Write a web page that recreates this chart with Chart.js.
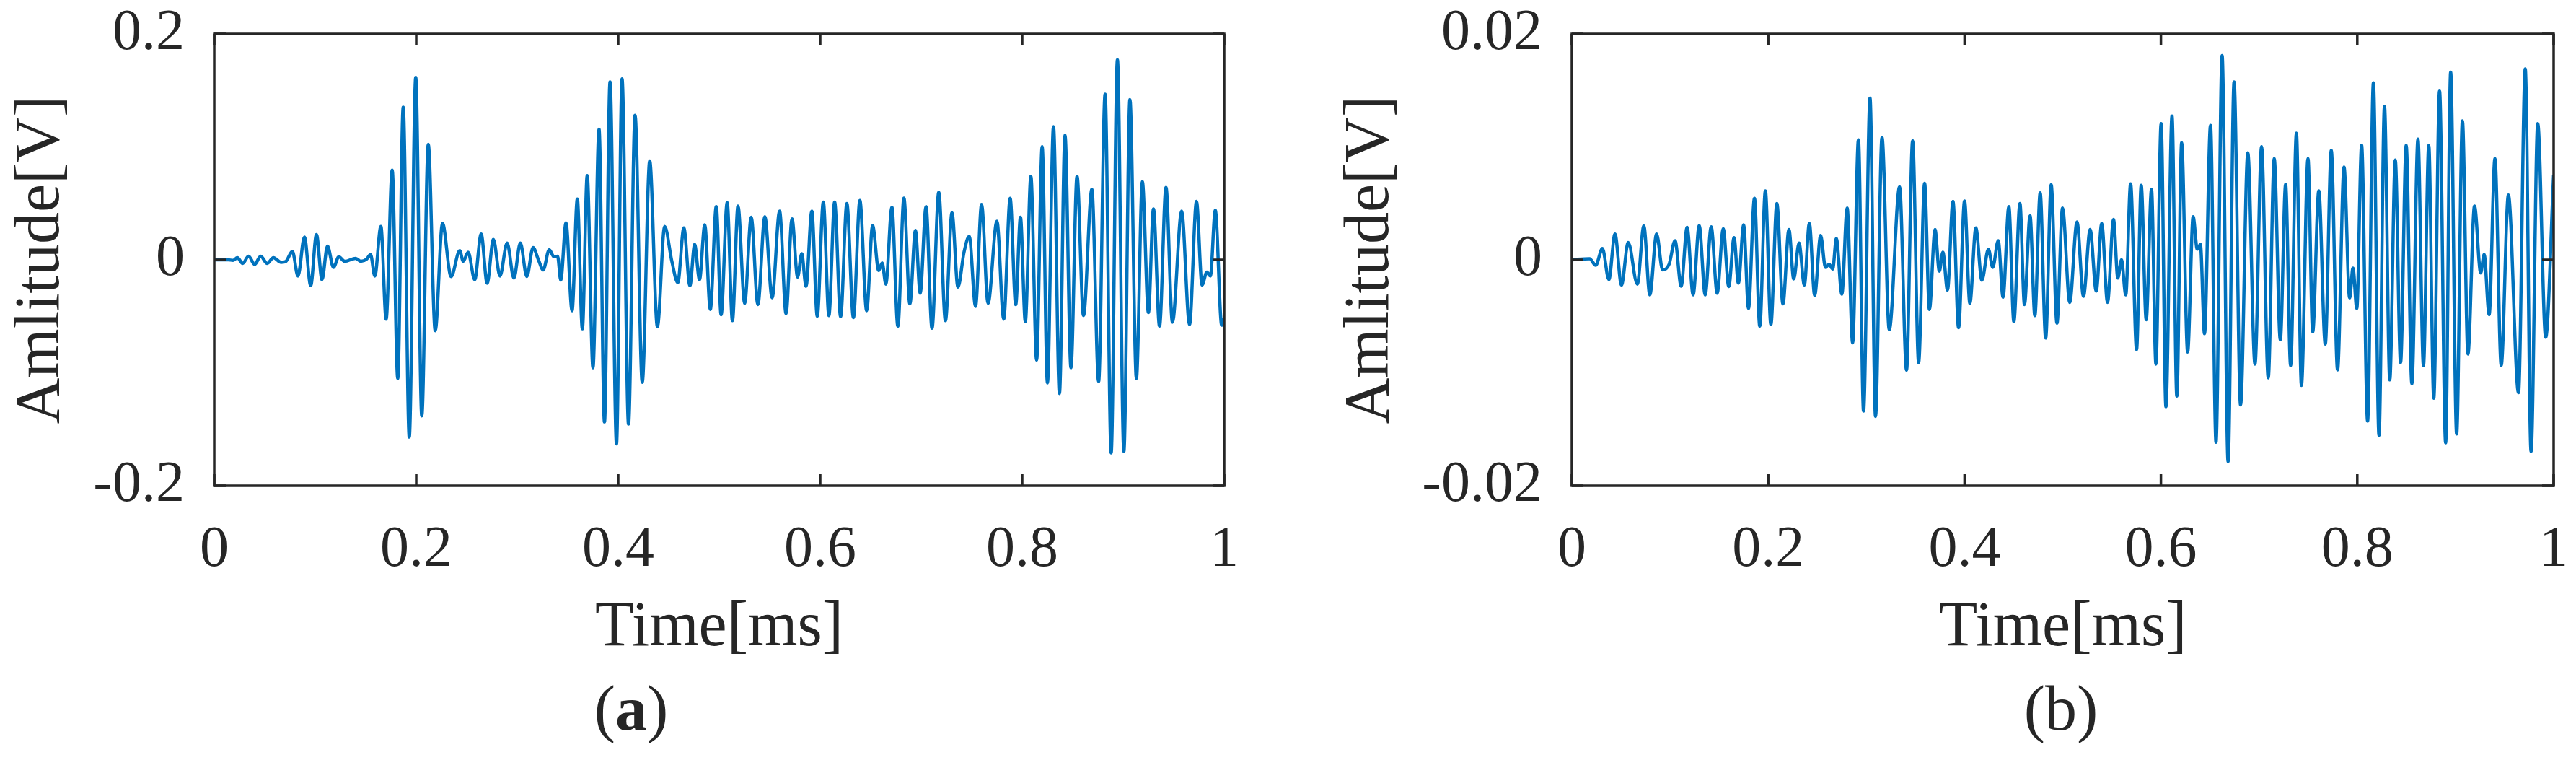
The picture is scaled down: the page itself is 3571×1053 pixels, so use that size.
<!DOCTYPE html>
<html><head><meta charset="utf-8">
<script src="https://cdn.jsdelivr.net/npm/chart.js@4/dist/chart.umd.min.js"></script>
<style>
html,body{margin:0;padding:0;background:#fff;}
#wrap{position:relative;width:3571px;height:1053px;overflow:hidden;background:#fff;}
.pane{position:absolute;top:0;height:1053px;}
.cap{position:absolute;font-family:"Liberation Serif","Times New Roman",serif;font-size:88px;line-height:88px;color:#262626;white-space:nowrap;transform:translateX(-50%);}
</style></head>
<body><div id="wrap">
<div class="pane" style="left:0;width:1785px"><canvas id="ca" width="1785" height="1053"></canvas></div>
<div class="pane" style="left:1785px;width:1786px"><canvas id="cb" width="1786" height="1053"></canvas></div>
<div class="cap" style="left:875px;top:938px">(<b>a</b>)</div>
<div class="cap" style="left:2857px;top:938px">(b)</div>
</div>
<script>
// ---- data (extrema of the traces) ----
const timeA = [0, 0.0138, 0.0186, 0.0229, 0.0281, 0.0340, 0.0400, 0.0460, 0.0524, 0.0586,
0.0662, 0.0710, 0.0774, 0.0829, 0.0893, 0.0955, 0.1012, 0.1067, 0.1121, 0.1181,
0.1233, 0.1293, 0.1400, 0.1452, 0.1507, 0.1548, 0.1590, 0.1650, 0.1702, 0.1762,
0.1817, 0.1871, 0.1931, 0.1995, 0.2055, 0.2119, 0.2188, 0.2260, 0.2345, 0.2431,
0.2465, 0.2514, 0.2579, 0.2643, 0.2702, 0.2764, 0.2829, 0.2900, 0.2967, 0.3031,
0.3095, 0.3157, 0.3210, 0.3257, 0.3317, 0.3364, 0.3400, 0.3431, 0.3483, 0.3543,
0.3595, 0.3645, 0.3693, 0.3750, 0.3810, 0.3864, 0.3919, 0.3983, 0.4038, 0.4102,
0.4167, 0.4238, 0.4312, 0.4388, 0.4460, 0.4531, 0.4590, 0.4650, 0.4710, 0.4757,
0.4805, 0.4857, 0.4912, 0.4971, 0.5019, 0.5079, 0.5131, 0.5186, 0.5252, 0.5317,
0.5383, 0.5452, 0.5524, 0.5598, 0.5662, 0.5721, 0.5776, 0.5817, 0.5860, 0.5917,
0.5971, 0.6031, 0.6086, 0.6143, 0.6202, 0.6264, 0.6329, 0.6393, 0.6460, 0.6519,
0.6579, 0.6614, 0.6650, 0.6710, 0.6769, 0.6829, 0.6888, 0.6943, 0.6990, 0.7048,
0.7107, 0.7174, 0.7240, 0.7305, 0.7364, 0.7424, 0.7476, 0.7538, 0.7598, 0.7662,
0.7750, 0.7817, 0.7881, 0.7936, 0.7983, 0.8031, 0.8086, 0.8143, 0.8198, 0.8250,
0.8310, 0.8369, 0.8424, 0.8483, 0.8543, 0.8607, 0.8690, 0.8757, 0.8821, 0.8881,
0.8943, 0.9007, 0.9067, 0.9131, 0.9190, 0.9250, 0.9300, 0.9360, 0.9424, 0.9488,
0.9579, 0.9657, 0.9726, 0.9781, 0.9829, 0.9864, 0.9912, 0.9976, 1.0];

const ampA = [0, 0, -0.0005, 0.0019, -0.0032, 0.0032, -0.0040, 0.0032, -0.0032, 0.0019,
-0.0022, -0.0013, 0.0075, -0.0143, 0.0202, -0.0229, 0.0223, -0.0175, 0.0121, -0.0067,
0.0027, -0.0013, 0.0013, -0.0013, 0.0005, 0.0046, -0.0143, 0.0296, -0.0525, 0.0794,
-0.1050, 0.1351, -0.1569, 0.1615, -0.1381, 0.1023, -0.0627, 0.0323, -0.0148, 0.0081,
-0.0013, 0.0067, -0.0175, 0.0229, -0.0207, 0.0180, -0.0143, 0.0148, -0.0162, 0.0148,
-0.0148, 0.0108, 0, -0.0089, 0.0089, 0.0027, 0.0032, -0.0180, 0.0328, -0.0450,
0.0538, -0.0611, 0.0746, -0.0956, 0.1157, -0.1435, 0.1575, -0.1629, 0.1602, -0.1454,
0.1279, -0.1085, 0.0875, -0.0592, 0.0296, -0.0013, -0.0202, 0.0283, -0.0229, 0.0135,
-0.0175, 0.0310, -0.0439, 0.0471, -0.0485, 0.0506, -0.0538, 0.0476, -0.0385, 0.0377,
-0.0396, 0.0382, -0.0336, 0.0431, -0.0476, 0.0363, -0.0153, 0.0054, -0.0234, 0.0431,
-0.0498, 0.0511, -0.0493, 0.0511, -0.0503, 0.0498, -0.0511, 0.0525, -0.0450, 0.0304,
-0.0094, -0.0027, -0.0215, 0.0466, -0.0587, 0.0546, -0.0390, 0.0261, -0.0296, 0.0471,
-0.0606, 0.0598, -0.0538, 0.0417, -0.0242, 0.0067, 0.0207, -0.0412, 0.0490, -0.0385,
0.0342, -0.0525, 0.0544, -0.0396, 0.0377, -0.0546, 0.0740, -0.0888, 0.1001, -0.1090,
0.1179, -0.1184, 0.1104, -0.0956, 0.0740, -0.0493, 0.0624, -0.1077, 0.1467, -0.1709,
0.1771, -0.1696, 0.1419, -0.1050, 0.0692, -0.0466, 0.0450, -0.0587, 0.0641, -0.0552,
0.0431, -0.0573, 0.0517, -0.0223, -0.0108, -0.0143, 0.0439, -0.0579, -0.0520];

const timeB = [0, 0.0181, 0.0243, 0.0311, 0.0377, 0.0439, 0.0505, 0.0574, 0.0667, 0.0733,
0.0794, 0.0863, 0.0924, 0.0990, 0.1051, 0.1113, 0.1174, 0.1235, 0.1297, 0.1358,
0.1419, 0.1480, 0.1542, 0.1598, 0.1652, 0.1696, 0.1750, 0.1799, 0.1860, 0.1914,
0.1971, 0.2027, 0.2088, 0.2150, 0.2211, 0.2260, 0.2314, 0.2368, 0.2419, 0.2473,
0.2534, 0.2583, 0.2620, 0.2657, 0.2694, 0.2750, 0.2804, 0.2860, 0.2919, 0.2971,
0.3037, 0.3093, 0.3159, 0.3233, 0.3338, 0.3409, 0.3471, 0.3532, 0.3593, 0.3642,
0.3699, 0.3743, 0.3779, 0.3826, 0.3882, 0.3939, 0.4000, 0.4054, 0.4115, 0.4176,
0.4243, 0.4287, 0.4343, 0.4392, 0.4451, 0.4502, 0.4564, 0.4610, 0.4667, 0.4716,
0.4770, 0.4826, 0.4882, 0.4941, 0.4998, 0.5071, 0.5145, 0.5211, 0.5279, 0.5341,
0.5397, 0.5456, 0.5517, 0.5561, 0.5598, 0.5642, 0.5691, 0.5752, 0.5799, 0.5850,
0.5904, 0.5949, 0.6002, 0.6051, 0.6113, 0.6162, 0.6211, 0.6272, 0.6328, 0.6370,
0.6402, 0.6444, 0.6505, 0.6561, 0.6623, 0.6684, 0.6745, 0.6811, 0.6885, 0.6958,
0.7025, 0.7093, 0.7154, 0.7216, 0.7270, 0.7321, 0.7380, 0.7431, 0.7498, 0.7546,
0.7608, 0.7674, 0.7735, 0.7799, 0.7865, 0.7922, 0.7956, 0.7995, 0.8044, 0.8105,
0.8164, 0.8221, 0.8277, 0.8331, 0.8387, 0.8441, 0.8498, 0.8556, 0.8618, 0.8674,
0.8728, 0.8779, 0.8838, 0.8900, 0.8951, 0.9012, 0.9071, 0.9127, 0.9194, 0.9257,
0.9292, 0.9343, 0.9402, 0.9466, 0.9539, 0.9642, 0.9711, 0.9770, 0.9838, 0.9919,
1.0];

const ampB = [0, 0.0001, -0.00048, 0.00100, -0.00175, 0.00229, -0.00223, 0.00153, -0.00215, 0.00301,
-0.00310, 0.00229, -0.00089, -0.00040, 0.00170, -0.00234, 0.00288, -0.00310, 0.00304, -0.00310,
0.00293, -0.00296, 0.00275, -0.00237, 0.00197, -0.00207, 0.00310, -0.00431, 0.00544, -0.00587,
0.00611, -0.00573, 0.00498, -0.00390, 0.00269, -0.00170, 0.00148, -0.00223, 0.00323, -0.00315,
0.00215, -0.00067, -0.00040, -0.00081, 0.00188, -0.00304, 0.00458, -0.00735, 0.01063, -0.01338,
0.01432, -0.01386, 0.01085, -0.00619, 0.00646, -0.00977, 0.01055, -0.00910, 0.00678, -0.00439,
0.00269, -0.00100, 0.00067, -0.00269, 0.00517, -0.00600, 0.00520, -0.00385, 0.00283, -0.00180,
0.00094, -0.00067, 0.00170, -0.00331, 0.00471, -0.00546, 0.00498, -0.00396, 0.00390, -0.00493,
0.00592, -0.00692, 0.00665, -0.00560, 0.00458, -0.00377, 0.00336, -0.00323, 0.00269, -0.00277,
0.00323, -0.00377, 0.00358, -0.00162, 0, -0.00310, 0.00673, -0.00794, 0.00659, -0.00530,
0.00624, -0.00923, 0.01206, -0.01300, 0.01273, -0.01206, 0.01036, -0.00816, 0.00382, 0.00094,
0.00135, -0.00654, 0.01190, -0.01615, 0.01809, -0.01785, 0.01575, -0.01284, 0.00948, -0.00923,
0.01001, -0.01044, 0.00896, -0.00708, 0.00668, -0.00937, 0.01122, -0.01112, 0.00896, -0.00638,
0.00611, -0.00746, 0.00969, -0.00974, 0.00821, -0.00336, -0.00073, -0.00431, 0.01015, -0.01427,
0.01567, -0.01553, 0.01359, -0.01063, 0.00883, -0.00910, 0.01015, -0.01098, 0.01069, -0.00937,
0.01015, -0.01225, 0.01494, -0.01620, 0.01661, -0.01542, 0.01230, -0.00834, 0.00476, -0.00116,
0.00048, -0.00485, 0.00896, -0.00934, 0.00573, -0.01176, 0.01690, -0.01696, 0.01206, -0.00686,
0.00754];

const xTickValues = [0, 0.2, 0.4, 0.6, 0.8, 1];
const xTickLabels = ['0', '0.2', '0.4', '0.6', '0.8', '1'];
const yTickValuesA = [-0.2, 0, 0.2];
const yTickLabelsA = ['-0.2', '0', '0.2'];
const yTickValuesB = [-0.02, 0, 0.02];
const yTickLabelsB = ['-0.02', '0', '0.02'];
const xTitle = 'Time[ms]';
const yTitle = 'Amlitude[V]';

// ---- styling ----
const FAM = '"Liberation Serif", "Times New Roman", serif';
const INK = '#262626';
const LINE = '#0072BD';

const framePlugin = {
  id: 'frame',
  afterDraw(chart) {
    const {ctx, chartArea: a, scales} = chart;
    const xs = scales.x, ys = scales.y;
    const yv = chart.options.plugins.frame.yTicks;
    ctx.save();
    ctx.strokeStyle = INK;
    ctx.lineWidth = 3.5;
    ctx.strokeRect(a.left, a.top, a.right - a.left, a.bottom - a.top);
    const L = 16;
    ctx.beginPath();
    xTickValues.forEach(v => {
      const px = xs.getPixelForValue(v);
      ctx.moveTo(px, a.bottom); ctx.lineTo(px, a.bottom - L);
      ctx.moveTo(px, a.top); ctx.lineTo(px, a.top + L);
    });
    yv.forEach(v => {
      const py = ys.getPixelForValue(v);
      ctx.moveTo(a.left, py); ctx.lineTo(a.left + L, py);
      ctx.moveTo(a.right, py); ctx.lineTo(a.right - L, py);
    });
    ctx.stroke();
    ctx.restore();
  }
};

function makeChart(id, times, amps, yVals, yLabs, cfg) {
  const pts = times.map((t, i) => ({x: t, y: amps[i]}));
  return new Chart(document.getElementById(id), {
    type: 'line',
    data: {datasets: [{
      data: pts, borderColor: LINE, borderWidth: 4.5, pointRadius: 0,
      cubicInterpolationMode: 'monotone', fill: false
    }]},
    plugins: [framePlugin],
    options: {
      responsive: false, animation: false, devicePixelRatio: 1,
      layout: {padding: {top: 47, right: cfg.rightPad, bottom: 0, left: 0}},
      plugins: {legend: {display: false}, tooltip: {enabled: false}, frame: {yTicks: yVals}},
      scales: {
        x: {
          type: 'linear', min: 0, max: 1,
          afterBuildTicks: s => { s.ticks = xTickValues.map(v => ({value: v})); },
          ticks: {autoSkip: false, maxRotation: 0, minRotation: 0, padding: 42, color: INK,
            font: {family: FAM, size: 80}, callback: (v, i) => xTickLabels[i]},
          grid: {display: false, drawTicks: false}, border: {display: false},
          title: {display: true, text: xTitle, color: INK, font: {family: FAM, size: 88},
            padding: {top: 0, bottom: 129}},
          afterFit: s => { s.height = 380; s.paddingLeft = 0; s.paddingRight = 0; }
        },
        y: {
          type: 'linear', min: yVals[0], max: yVals[yVals.length - 1],
          afterBuildTicks: s => { s.ticks = yVals.map(v => ({value: v})); },
          ticks: {autoSkip: false, padding: 41, color: INK,
            font: {family: FAM, size: 80}, callback: (v, i) => yLabs[i]},
          grid: {display: false, drawTicks: false}, border: {display: false},
          title: {display: true, text: yTitle, color: INK, font: {family: FAM, size: 88},
            padding: {top: cfg.yTitlePad, bottom: 0}},
          afterFit: s => { s.width = cfg.yWidth; s.paddingTop = 0; s.paddingBottom = 0; }
        }
      }
    }
  });
}

function draw() {
  makeChart('ca', timeA, ampA, yTickValuesA, yTickLabelsA, {rightPad: 88, yWidth: 297, yTitlePad: 5});
  makeChart('cb', timeB, ampB, yTickValuesB, yTickLabelsB, {rightPad: 31, yWidth: 394, yTitlePad: 63});
}

let p = Promise.resolve();
try {
  if (document.fonts && document.fonts.load) {
    p = Promise.all([document.fonts.load('80px "Liberation Serif"'), document.fonts.load('bold 88px "Liberation Serif"')]);
  }
} catch (e) {}
p.catch(() => {}).then(draw);
</script>
</body></html>
